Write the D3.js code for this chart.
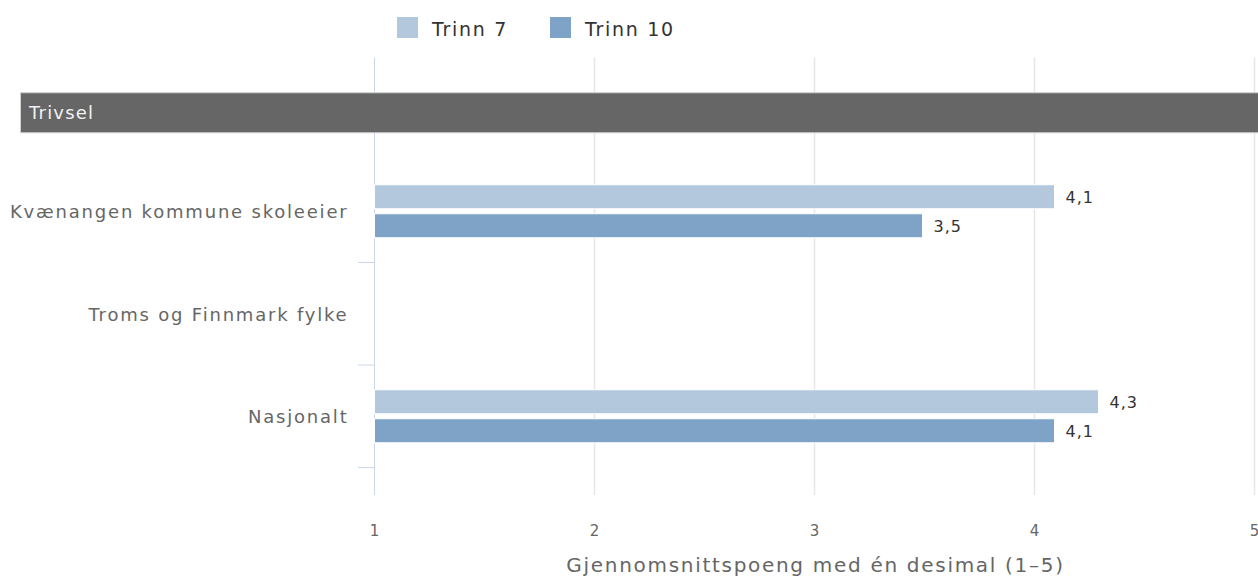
<!DOCTYPE html>
<html>
<head>
<meta charset="utf-8">
<script src="https://cdn.jsdelivr.net/npm/d3@7"></script>
<style>
    body { margin: 0; background: #fff; }
    svg { display: block; font-family: "DejaVu Sans", sans-serif; }
</style>
</head>
<body>
<script>
// data
var header = "Trivsel";
var categories = ["Kvænangen kommune skoleeier", "Troms og Finnmark fylke", "Nasjonalt"];
var seriesNames = ["Trinn 7", "Trinn 10"];
var trinn7 = [4.1, null, 4.3];
var trinn10 = [3.5, null, 4.1];
var xTicks = [1, 2, 3, 4, 5];
var xTitle = "Gjennomsnittspoeng med én desimal (1–5)";
var colors = ["#b3c8dd", "#7fa3c7"];

window.onload = (event) => {
    setChart();
};

function setChart() {
    var width = 1258,
        height = 577,
        plotTop = 57.5,
        plotBottom = 495;

    var svg = d3.select("body")
        .append("svg")
        .attr("width", width)
        .attr("height", height);

    var x = d3.scaleLinear()
        .domain([1, 5])
        .range([374.5, 1254.5]);

    var rows = [header].concat(categories);
    var y = d3.scaleBand()
        .domain(rows)
        .range([plotTop, 467.5]);

    var yInner = d3.scaleBand()
        .domain(seriesNames)
        .range([-26.5, 26.5])
        .paddingInner(5 / 29);

    // gridlines
    svg.append("g")
        .selectAll("line")
        .data(xTicks.slice(1))
        .enter()
        .append("line")
        .attr("x1", d => Math.round(x(d)) - 0.5)
        .attr("x2", d => Math.round(x(d)) - 0.5)
        .attr("y1", plotTop)
        .attr("y2", plotBottom)
        .attr("stroke", "#e6e6e6")
        .attr("stroke-width", 1.5);

    // y axis line + ticks
    svg.append("line")
        .attr("x1", x(1))
        .attr("x2", x(1))
        .attr("y1", plotTop)
        .attr("y2", plotBottom)
        .attr("stroke", "#ccd6eb")
        .attr("stroke-width", 1);

    svg.append("g")
        .selectAll("line")
        .data(categories)
        .enter()
        .append("line")
        .attr("x1", 358)
        .attr("x2", x(1))
        .attr("y1", d => y(d) + y.bandwidth())
        .attr("y2", d => y(d) + y.bandwidth())
        .attr("stroke", "#ccd6eb");

    // header band (covers axis)
    var hy = y(header) + y.bandwidth() / 2 + 4;
    svg.append("rect")
        .attr("x", 20.5)
        .attr("y", hy - 20)
        .attr("width", width)
        .attr("height", 40)
        .attr("fill", "#666666")
        .attr("stroke", "#cfcfcf")
        .attr("stroke-width", 1);

    svg.append("text")
        .attr("x", 29)
        .attr("y", hy + 6)
        .attr("fill", "#f2f2f2")
        .style("font-size", "18px")
        .style("letter-spacing", "1.2px")
        .text(header);

    // category labels
    svg.append("g")
        .selectAll("text")
        .data(categories)
        .enter()
        .append("text")
        .attr("x", 348.5)
        .attr("y", d => y(d) + y.bandwidth() / 2 + 7)
        .attr("text-anchor", "end")
        .attr("fill", "#666666")
        .style("font-size", "18px")
        .style("letter-spacing", "1.8px")
        .text(d => d);

    // bars
    var bars = [];
    categories.forEach(function(c, i) {
        bars.push({ cat: c, s: seriesNames[0], v: trinn7[i], color: colors[0] });
        bars.push({ cat: c, s: seriesNames[1], v: trinn10[i], color: colors[1] });
    });
    bars = bars.filter(d => d.v != null);

    var barG = svg.append("g");
    barG.selectAll("rect")
        .data(bars)
        .enter()
        .append("rect")
        .attr("x", x(1))
        .attr("y", d => y(d.cat) + y.bandwidth() / 2 + yInner(d.s))
        .attr("width", d => x(d.v) - x(1) - 2)
        .attr("height", yInner.bandwidth())
        .attr("fill", d => d.color)
        .attr("stroke", "#ffffff")
        .attr("stroke-width", 1);

    barG.selectAll("text")
        .data(bars)
        .enter()
        .append("text")
        .attr("x", d => x(d.v) + 9)
        .attr("y", d => y(d.cat) + y.bandwidth() / 2 + yInner(d.s) + yInner.bandwidth() / 2 + 6)
        .attr("fill", "#333333")
        .style("font-size", "16px")
        .style("letter-spacing", "1px")
        .text(d => d3.format(".1f")(d.v).replace(".", ","));

    // x axis labels
    svg.append("g")
        .selectAll("text")
        .data(xTicks)
        .enter()
        .append("text")
        .attr("x", d => x(d))
        .attr("y", 536)
        .attr("text-anchor", "middle")
        .attr("fill", "#666666")
        .style("font-size", "15px")
        .text(d => d);

    svg.append("text")
        .attr("x", (x(1) + x(5)) / 2 + 1)
        .attr("y", 572)
        .attr("text-anchor", "middle")
        .attr("fill", "#666666")
        .style("font-size", "20px")
        .style("letter-spacing", "1.7px")
        .text(xTitle);

    // legend
    var legend = svg.append("g")
        .selectAll("g")
        .data(seriesNames)
        .enter()
        .append("g")
        .attr("transform", (d, i) => "translate(" + (397 + i * 153) + ",17)");

    legend.append("rect")
        .attr("width", 21)
        .attr("height", 21)
        .attr("fill", (d, i) => colors[i]);

    legend.append("text")
        .attr("x", 35)
        .attr("y", 19)
        .attr("fill", "#333333")
        .style("font-size", "19px")
        .style("letter-spacing", "1.7px")
        .text(d => d);
}
</script>
</body>
</html>
